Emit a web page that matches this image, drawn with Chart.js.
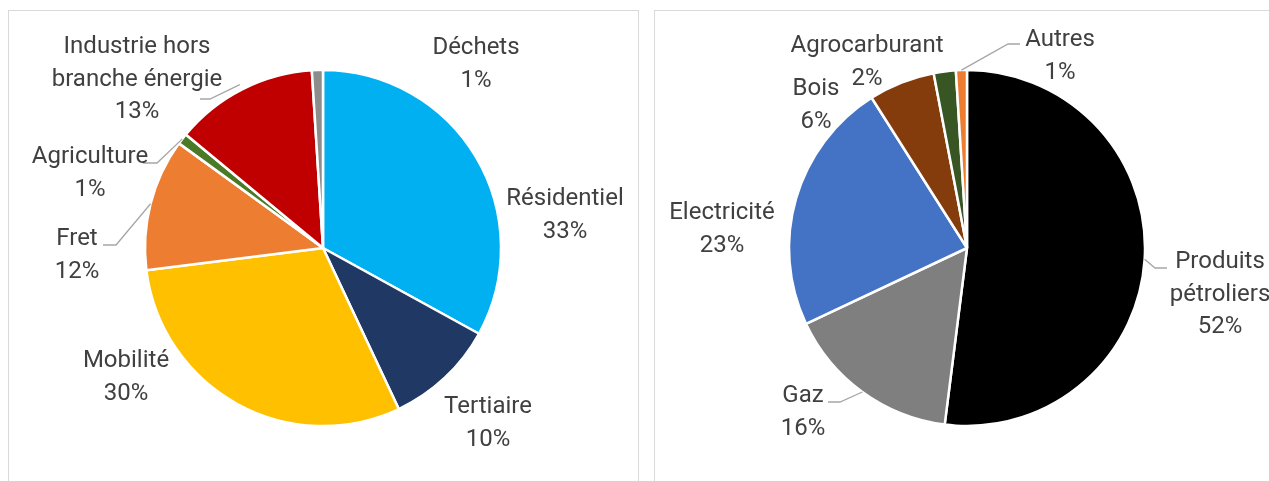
<!DOCTYPE html>
<html>
<head>
<meta charset="utf-8">
<script src="https://cdn.jsdelivr.net/npm/chart.js@4.4.1/dist/chart.umd.min.js"></script>
<style>
  html, body { margin: 0; padding: 0; background: #fff; width: 1269px; height: 481px; overflow: hidden; }
  .panel { position: absolute; border: 1px solid #d9d9d9; box-sizing: border-box; background: #fff; }
  #p1 { left: 8px; top: 10px; width: 631px; height: 490px; }
  #p2 { left: 654px; top: 10px; width: 640px; height: 490px; }
  canvas { position: absolute; left: 0; top: 0; }
</style>
</head>
<body>
<div class="panel" id="p1"><canvas id="c1" width="629" height="470"></canvas></div>
<div class="panel" id="p2"><canvas id="c2" width="614" height="470"></canvas></div>
<script>
// ---------- DATA ----------
const sectorLabels = ["Résidentiel", "Tertiaire", "Mobilité", "Fret", "Agriculture", "Industrie hors branche énergie", "Déchets"];
const sectorValues = [33, 10, 30, 12, 1, 13, 1];
const sectorLabelLines = [["Résidentiel"], ["Tertiaire"], ["Mobilité"], ["Fret"], ["Agriculture"], ["Industrie hors", "branche énergie"], ["Déchets"]];

const energyLabels = ["Produits pétroliers", "Gaz", "Electricité", "Bois", "Agrocarburant", "Autres"];
const energyValues = [52, 16, 23, 6, 2, 1];
const energyLabelLines = [["Produits", "pétroliers"], ["Gaz"], ["Electricité"], ["Bois"], ["Agrocarburant"], ["Autres"]];

// ---------- STYLES ----------
const sectorColors = ["#00B0F0", "#1F3864", "#FFC000", "#ED7D31", "#4A7A26", "#C00000", "#8C8C8C"];
const energyColors = ["#000000", "#7F7F7F", "#4472C4", "#843C0C", "#375623", "#ED7D31"];

// label placement relative to pie centre (px): [dx, dy of first baseline]
const sectorLabelPos = [[242, -43], [165, 165], [-197, 119], [-246, -3], [-233, -85], [-186, -195], [153, -194]];
const energyLabelPos = [[253, 20], [-164, 154], [-245, -29], [-151, -153], [-100, -196], [93, -202]];
// leader lines: null or [[elbowDx, elbowDy], [endDx, endDy], startRadiusFactor]
const sectorLeaders = [null, null, null, [[-207, -3], [-220, -3], 1.0], [[-166, -85], [-180, -85], 1.0], [[-113, -149], [-123, -149], 1.03], null];
const energyLeaders = [[[188, 20], [200, 20], 1.0], [[-127, 154], [-139, 154], 1.0], null, null, null, [[41, -204], [53, -204], 1.0]];

const FONT = '24px Roboto, "Noto Sans", sans-serif';
const TEXT_COLOR = '#404040';
const LINE_H = 32.5;

function labelPlugin(lines, pos, leaders, values) {
  return {
    id: 'outLabels',
    afterDatasetsDraw(chart) {
      const ctx = chart.ctx;
      const meta = chart.getDatasetMeta(0);
      const total = values.reduce((a, b) => a + b, 0);
      ctx.save();
      meta.data.forEach((arc, i) => {
        const cx = arc.x, cy = arc.y, r = arc.outerRadius;
        const mid = (arc.startAngle + arc.endAngle) / 2;
        const ld = leaders[i];
        if (ld) {
          const sx = cx + Math.cos(mid) * r * ld[2];
          const sy = cy + Math.sin(mid) * r * ld[2];
          ctx.beginPath();
          ctx.strokeStyle = '#A6A6A6';
          ctx.lineWidth = 1.3;
          ctx.moveTo(sx, sy);
          ctx.lineTo(cx + ld[0][0], cy + ld[0][1]);
          ctx.lineTo(cx + ld[1][0], cy + ld[1][1]);
          ctx.stroke();
        }
        const pct = Math.round(values[i] / total * 100) + '%';
        const all = lines[i].concat([pct]);
        ctx.font = FONT;
        ctx.fillStyle = TEXT_COLOR;
        ctx.textAlign = 'center';
        ctx.textBaseline = 'alphabetic';
        all.forEach((t, k) => {
          ctx.fillText(t, cx + pos[i][0], cy + pos[i][1] + k * LINE_H);
        });
      });
      ctx.restore();
    }
  };
}

function makePie(id, labels, values, colors, lines, pos, leaders, padding) {
  return new Chart(document.getElementById(id), {
    type: 'pie',
    data: {
      labels: labels,
      datasets: [{
        data: values,
        backgroundColor: colors,
        borderColor: '#FFFFFF',
        borderWidth: 2.5,
        hoverOffset: 0,
        offset: 0
      }]
    },
    options: {
      responsive: false,
      animation: false,
      radius: 178,
      layout: { padding: padding },
      plugins: { legend: { display: false }, tooltip: { enabled: false } },
      events: []
    },
    plugins: [labelPlugin(lines, pos, leaders, values)]
  });
}

makePie('c1', sectorLabels, sectorValues, sectorColors, sectorLabelLines, sectorLabelPos, sectorLeaders,
  { left: 136, right: 137, top: 59, bottom: 55 });
makePie('c2', energyLabels, energyValues, energyColors, energyLabelLines, energyLabelPos, energyLeaders,
  { left: 134, right: 124, top: 59, bottom: 55 });
</script>
</body>
</html>
